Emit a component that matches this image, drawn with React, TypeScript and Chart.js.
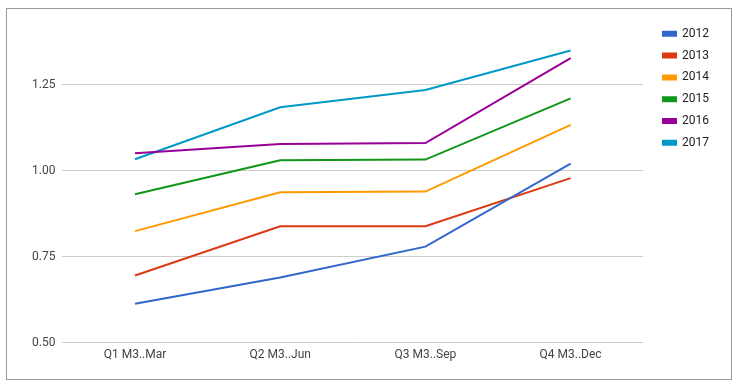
import React, { useEffect, useRef } from "react";
import { Chart, registerables } from "chart.js";

Chart.register(...registerables);

const categories = ["Q1 M3..Mar", "Q2 M3..Jun", "Q3 M3..Sep", "Q4 M3..Dec"];
const seriesNames = ["2012", "2013", "2014", "2015", "2016", "2017"];
const s2012 = [0.613, 0.689, 0.779, 1.02];
const s2013 = [0.695, 0.838, 0.838, 0.978];
const s2014 = [0.824, 0.937, 0.939, 1.133];
const s2015 = [0.931, 1.03, 1.032, 1.21];
const s2016 = [1.05, 1.077, 1.08, 1.327];
const s2017 = [1.033, 1.184, 1.234, 1.349];
const seriesColors = ["#3366cc", "#dc3912", "#ff9900", "#109618", "#990099", "#0099c6"];
const yTicks = [0.5, 0.75, 1.0, 1.25];
const yMin = 0.5;
const yMax = 1.4434;

export default function App() {
  const ref = useRef<HTMLCanvasElement | null>(null);
  useEffect(() => {
    if (!ref.current) return;
    const all = [s2012, s2013, s2014, s2015, s2016, s2017];
    const chart = new Chart(ref.current, {
      type: "line",
      data: {
        labels: categories,
        datasets: all.map((d, i) => ({
          label: seriesNames[i],
          data: d,
          borderColor: seriesColors[i],
          backgroundColor: seriesColors[i],
          borderWidth: 2,
          pointRadius: 0,
          tension: 0,
        })),
      },
      options: {
        animation: false,
        responsive: false,
        layout: { padding: { left: 25, top: 18, bottom: 20, right: 20 } },
        plugins: {
          tooltip: { enabled: false },
          legend: {
            position: "right",
            align: "start",
            labels: {
              boxWidth: 13,
              boxHeight: 4,
              padding: 9.8,
              color: "#222",
              font: { family: "Roboto", size: 12 },
            },
          },
        },
        scales: {
          x: {
            offset: true,
            grid: { display: false, drawTicks: false },
            border: { display: false },
            ticks: { color: "#444", font: { family: "Roboto", size: 12 }, padding: 5, maxRotation: 0 },
          },
          y: {
            min: yMin,
            max: yMax,
            border: { display: false },
            grid: { color: "#cccccc", drawTicks: false },
            afterBuildTicks: (scale: any) => {
              scale.ticks = yTicks.map((v) => ({ value: v }));
            },
            ticks: {
              color: "#444",
              font: { family: "Roboto", size: 12 },
              padding: 7,
              callback: (v: any) => Number(v).toFixed(2),
            },
          },
          gap: {
            type: "linear",
            position: "right",
            display: true,
            grid: { display: false, drawTicks: false },
            border: { display: false },
            ticks: { display: false },
            afterFit: (scale: any) => {
              scale.width = 10;
            },
          },
        },
      },
    });
    return () => chart.destroy();
  }, []);
  return (
    <div style={{ position: "fixed", left: 0, top: 0, width: 739, height: 387, background: "#fff" }}>
      <canvas ref={ref} width={739} height={387} style={{ position: "absolute", left: 0, top: 0 }} />
      <div
        style={{
          position: "absolute",
          left: 6,
          top: 8,
          width: 726,
          height: 372,
          boxSizing: "border-box",
          border: "1px solid #999",
          pointerEvents: "none",
        }}
      />
    </div>
  );
}
